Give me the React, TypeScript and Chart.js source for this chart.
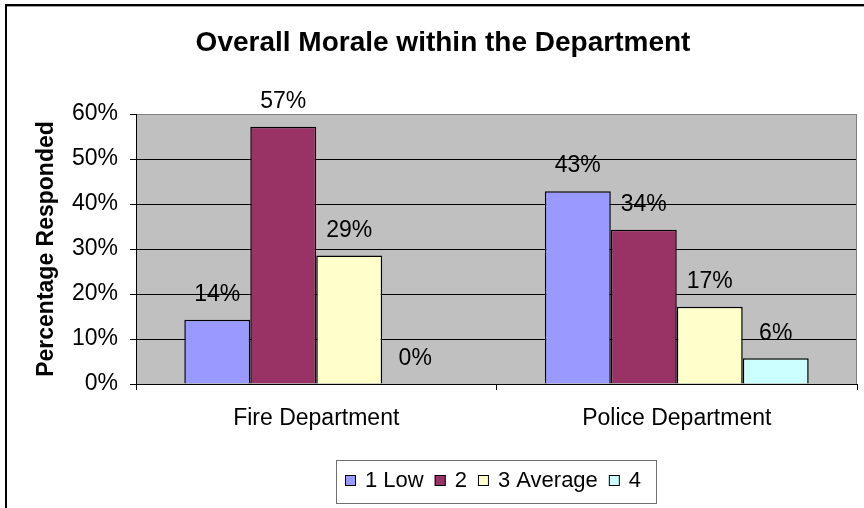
import React, { useEffect, useRef } from "react";
import { Chart, registerables } from "chart.js";

Chart.register(...registerables);

// ---- data ----
const categories = ["Fire Department", "Police Department"];
const seriesLabels = ["1 Low", "2", "3 Average", "4"];
const lowValues = [14.29, 42.86];
const twoValues = [57.14, 34.29];
const averageValues = [28.57, 17.14];
const fourValues = [0, 5.71];
const yTickValues = [0, 10, 20, 30, 40, 50, 60];
const seriesColors = ["#9999FF", "#993366", "#FFFFCC", "#CCFFFF"];
const chartTitle = "Overall Morale within the Department";
const yAxisTitle = "Percentage Responded";

const FONT = "'Liberation Sans', Arial, sans-serif";

const decorPlugin = {
  id: "decor",
  beforeDraw(chart: any) {
    const { ctx, chartArea } = chart;
    ctx.save();
    ctx.fillStyle = "#FFFFFF";
    ctx.fillRect(0, 0, chart.width, chart.height);
    // outer frame
    ctx.fillStyle = "#000000";
    ctx.fillRect(5, 4, chart.width, 2);
    ctx.fillRect(5, 4, 2, chart.height);
    ctx.fillStyle = "#A0A0A0";
    ctx.fillRect(7, 6, chart.width, 1);
    // plot background
    ctx.fillStyle = "#C0C0C0";
    ctx.fillRect(
      chartArea.left,
      chartArea.top,
      chartArea.right - chartArea.left,
      chartArea.bottom - chartArea.top
    );
    ctx.restore();
  },
  beforeDatasetsDraw(chart: any) {
    const { ctx, chartArea } = chart;
    ctx.save();
    ctx.strokeStyle = "#808080";
    ctx.lineWidth = 1;
    ctx.beginPath();
    ctx.moveTo(chartArea.right - 0.5, chartArea.top);
    ctx.lineTo(chartArea.right - 0.5, chartArea.bottom);
    ctx.stroke();
    ctx.restore();
  },
  afterDatasetsDraw(chart: any) {
    const { ctx } = chart;
    ctx.save();
    // data labels
    ctx.font = `23px ${FONT}`;
    ctx.fillStyle = "#000000";
    ctx.textAlign = "center";
    ctx.textBaseline = "middle";
    chart.data.datasets.forEach((ds: any, di: number) => {
      const meta = chart.getDatasetMeta(di);
      meta.data.forEach((bar: any, i: number) => {
        const v = ds.data[i];
        ctx.fillText(Math.round(v) + "%", bar.x, bar.y - 25);
      });
    });

    // title
    ctx.font = `bold 28px ${FONT}`;
    ctx.textAlign = "center";
    ctx.textBaseline = "alphabetic";
    ctx.fillText(chartTitle, 443, 51);

    // legend
    const boxL = 336, boxT = 460, boxR = 656, boxB = 503;
    ctx.fillStyle = "#FFFFFF";
    ctx.fillRect(boxL, boxT, boxR - boxL, boxB - boxT);
    ctx.strokeStyle = "#707070";
    ctx.lineWidth = 1;
    ctx.strokeRect(boxL + 0.5, boxT + 0.5, boxR - boxL, boxB - boxT);
    ctx.font = `22px ${FONT}`;
    ctx.textAlign = "left";
    ctx.textBaseline = "middle";
    let x = 345;
    const cy = 481;
    chart.data.datasets.forEach((ds: any) => {
      ctx.fillStyle = ds.backgroundColor;
      ctx.fillRect(x, cy - 6, 11, 11);
      ctx.strokeStyle = "#000000";
      ctx.strokeRect(x + 0.5, cy - 5.5, 10, 10);
      x += 11 + 9;
      ctx.fillStyle = "#000000";
      ctx.fillText(ds.label, x, cy);
      x += ctx.measureText(ds.label).width + 11;
    });
    ctx.restore();
  },
};

export default function App() {
  const canvasRef = useRef<HTMLCanvasElement | null>(null);

  useEffect(() => {
    const canvas = canvasRef.current;
    if (!canvas) return;
    const valueSets = [lowValues, twoValues, averageValues, fourValues];
    const chart = new Chart(canvas, {
      type: "bar",
      data: {
        labels: categories,
        datasets: seriesLabels.map((label, i) => ({
          label,
          data: valueSets[i],
          backgroundColor: seriesColors[i],
          borderColor: "#000000",
          borderWidth: 1.5,
          categoryPercentage: 0.732,
          barPercentage: 1,
        })),
      },
      options: {
        responsive: false,
        animation: false,
        devicePixelRatio: 1,
        layout: { padding: { top: 114, right: 7, bottom: 0, left: 0 } },
        plugins: {
          legend: { display: false },
          title: { display: false },
          tooltip: { enabled: false },
        },
        scales: {
          x: {
            afterFit: (scale: any) => {
              scale.height = 124;
            },
            grid: {
              offset: true,
              drawOnChartArea: false,
              drawTicks: true,
              tickLength: 6,
              color: "#000000",
            },
            border: { display: true, color: "#000000", width: 1 },
            ticks: {
              color: "#000000",
              font: { family: FONT, size: 23 },
              padding: 15,
              maxRotation: 0,
            },
          },
          y: {
            min: 0,
            max: 60,
            afterFit: (scale: any) => {
              scale.width = 136;
            },
            afterBuildTicks: (scale: any) => {
              scale.ticks = yTickValues.map((v) => ({ value: v }));
            },
            grid: {
              color: (ctx: any) =>
                ctx.tick && ctx.tick.value === 60 ? "#808080" : "#000000",
              tickColor: "#000000",
              tickLength: 6,
              lineWidth: 1,
            },
            border: { display: true, color: "#000000", width: 1 },
            ticks: {
              color: "#000000",
              font: { family: FONT, size: 23 },
              padding: 12,
              callback: (v: any) => v + "%",
            },
            title: {
              display: true,
              text: yAxisTitle,
              color: "#000000",
              font: { family: FONT, size: 23, weight: "bold" },
              padding: { top: 33, bottom: 0 },
            },
          },
        },
      },
      plugins: [decorPlugin],
    });
    return () => chart.destroy();
  }, []);

  return (
    <div style={{ position: "absolute", left: 0, top: 0, width: 864, height: 508 }}>
      <canvas ref={canvasRef} width={864} height={508} />
    </div>
  );
}
